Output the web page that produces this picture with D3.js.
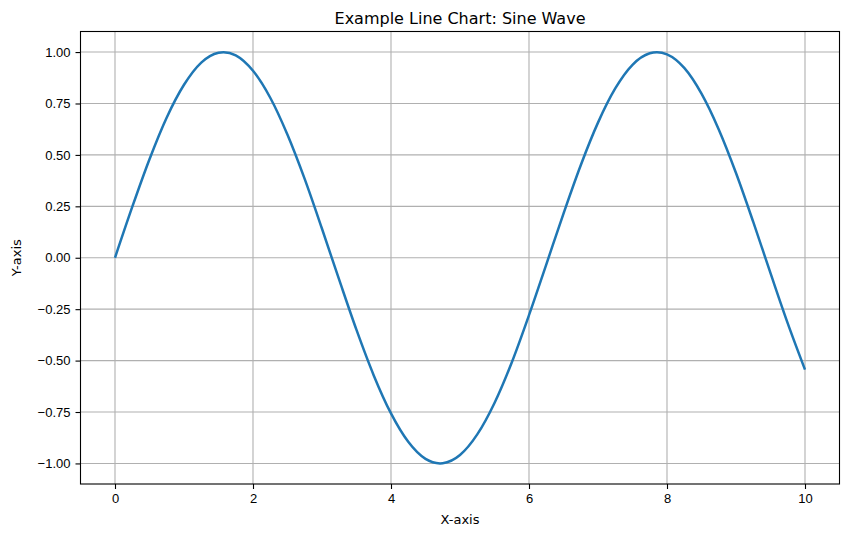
<!DOCTYPE html>
<html>
<head>
<meta charset="utf-8" />
<style>
body {
	margin: 0;
	background: white;
	font-family: "DejaVu Sans", sans-serif;
}
svg {
	display: block;
}
.grid line {
	stroke: #b0b0b0;
	stroke-width: 1.1;
}
.axis text {
	font-size: 13px;
	fill: black;
}
.axis path, .axis line {
	stroke: black;
	stroke-width: 1.1;
}
.title {
	font-size: 16px;
	text-anchor: middle;
}
.axis-label {
	font-size: 13px;
	text-anchor: middle;
}
.wave {
	fill: none;
	stroke: #1f77b4;
	stroke-width: 2.5;
}
</style>
</head>
<body>
<script src="https://cdn.jsdelivr.net/npm/d3@7"></script>
<script>
// points
var xValues = [0, 0.25, 0.5, 0.75, 1, 1.25, 1.5, 1.75, 2, 2.25,
    2.5, 2.75, 3, 3.25, 3.5, 3.75, 4, 4.25, 4.5, 4.75,
    5, 5.25, 5.5, 5.75, 6, 6.25, 6.5, 6.75, 7, 7.25,
    7.5, 7.75, 8, 8.25, 8.5, 8.75, 9, 9.25, 9.5, 9.75, 10];
var yValues = [0, 0.247, 0.479, 0.682, 0.841, 0.949, 0.997, 0.984, 0.909, 0.778,
    0.598, 0.382, 0.141, -0.108, -0.351, -0.572, -0.757, -0.895, -0.978, -0.999,
    -0.959, -0.859, -0.706, -0.509, -0.279, -0.033, 0.215, 0.45, 0.657, 0.823,
    0.938, 0.994, 0.989, 0.923, 0.798, 0.624, 0.412, 0.174, -0.075, -0.319, -0.544];
var xTicks = [0, 2, 4, 6, 8, 10];
var yTicks = [-1.0, -0.75, -0.5, -0.25, 0.0, 0.25, 0.5, 0.75, 1.0];

var width = 848,
    height = 536,
    margin = {top: 31.5, right: 8.5, bottom: 52, left: 80.5};

var svg = d3.select("body").append("svg")
	.attr("width", width)
	.attr("height", height);

var x = d3.scaleLinear()
	.domain([-0.5, 10.5])
	.range([margin.left, width - margin.right]);

var y = d3.scaleLinear()
	.domain([-1.1, 1.1])
	.range([height - margin.bottom, margin.top]);

// grid
var grid = svg.append("g").attr("class", "grid");
grid.selectAll(".gx")
	.data(xTicks)
	.enter().append("line")
	.attr("x1", function(d) { return x(d); })
	.attr("x2", function(d) { return x(d); })
	.attr("y1", margin.top)
	.attr("y2", height - margin.bottom);
grid.selectAll(".gy")
	.data(yTicks)
	.enter().append("line")
	.attr("x1", margin.left)
	.attr("x2", width - margin.right)
	.attr("y1", function(d) { return y(d); })
	.attr("y2", function(d) { return y(d); });

// the wave
var points = xValues.map(function(d, i) { return [d, yValues[i]]; });
var line = d3.line()
	.x(function(d) { return x(d[0]); })
	.y(function(d) { return y(d[1]); })
	.curve(d3.curveCatmullRom.alpha(0));

svg.append("path")
	.attr("class", "wave")
	.attr("d", line(points));

// axes
svg.append("g")
	.attr("class", "axis")
	.attr("transform", "translate(0," + (height - margin.bottom) + ")")
	.call(d3.axisBottom(x).tickValues(xTicks).tickSize(5).tickPadding(5).tickSizeOuter(0))
	.call(function(g) { g.select(".domain").remove(); });

svg.append("g")
	.attr("class", "axis")
	.attr("transform", "translate(" + margin.left + ",0)")
	.call(d3.axisLeft(y).tickValues(yTicks).tickSize(5).tickPadding(5)
		.tickFormat(function(d) { return d3.format(".2f")(d).replace("-", "\u2212"); }))
	.call(function(g) { g.select(".domain").remove(); });

// frame
svg.append("rect")
	.attr("x", margin.left)
	.attr("y", margin.top)
	.attr("width", width - margin.left - margin.right)
	.attr("height", height - margin.top - margin.bottom)
	.attr("fill", "none")
	.attr("stroke", "black")
	.attr("stroke-width", 1.1);

svg.append("text")
	.attr("class", "title")
	.attr("x", (margin.left + width - margin.right) / 2)
	.attr("y", 24)
	.text("Example Line Chart: Sine Wave");

svg.append("text")
	.attr("class", "axis-label")
	.attr("x", (margin.left + width - margin.right) / 2)
	.attr("y", 524)
	.text("X-axis");

svg.append("text")
	.attr("class", "axis-label")
	.attr("transform", "translate(21," + y(0) + ") rotate(-90)")
	.text("Y-axis");
</script>
</body>
</html>
